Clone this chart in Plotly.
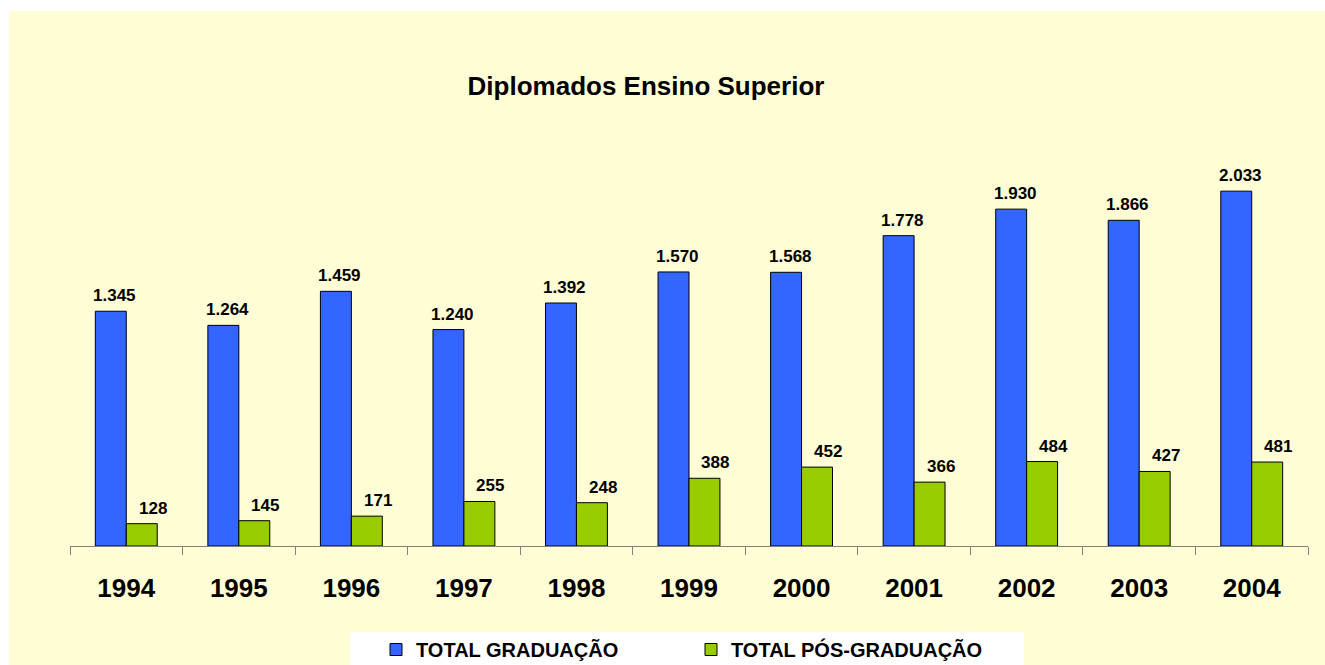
import plotly.graph_objects as go

years = ["1994", "1995", "1996", "1997", "1998", "1999", "2000", "2001", "2002", "2003", "2004"]
graduacao = [1345, 1264, 1459, 1240, 1392, 1570, 1568, 1778, 1930, 1866, 2033]
pos_graduacao = [128, 145, 171, 255, 248, 388, 452, 366, 484, 427, 481]

OFF = 0  # body margin removed via post_script
W, H = 1325, 665
ML = 70 - OFF
MR = W - (1308 - OFF)
MB = H - (546 - OFF)
MT = 162
plot_w = W - ML - MR
plot_h = H - MT - MB

def px_x(page_x):
    return (page_x - OFF - ML) / plot_w

def px_y(page_y):
    return (H - MB - (page_y - OFF)) / plot_h

fig = go.Figure()
fig.add_trace(go.Bar(
    x=years, y=graduacao, name="TOTAL GRADUAÇÃO",
    marker=dict(color="#3366FF", line=dict(color="#000000", width=1)),
))
fig.add_trace(go.Bar(
    x=years, y=pos_graduacao, name="TOTAL PÓS-GRADUAÇÃO",
    marker=dict(color="#99CC00", line=dict(color="#000000", width=1)),
))

bar_px = plot_w / len(years) * 0.55 / 2
annotations = []
for series, shift in ((graduacao, -bar_px / 2 + 4), (pos_graduacao, bar_px / 2 + 11)):
    for i, v in enumerate(series):
        annotations.append(dict(
            x=i, y=v, xref="x", yref="y",
            text="<b>" + f"{v:,}".replace(",", ".") + "</b>",
            showarrow=False, xanchor="center", yanchor="bottom",
            xshift=shift, yshift=4,
            font=dict(family="Liberation Sans, Arial", size=17, color="#000000"),
        ))

shapes = [
    # yellow chart-area background
    dict(type="rect", xref="paper", yref="paper", layer="below",
         x0=px_x(9), x1=px_x(1340), y0=px_y(680), y1=px_y(11),
         fillcolor="#FFFDD6", line=dict(width=0)),
    # white legend box
    dict(type="rect", xref="paper", yref="paper", layer="below",
         x0=px_x(350), x1=px_x(1024), y0=px_y(680), y1=px_y(632),
         fillcolor="#FFFFFF", line=dict(width=0)),
]

fig.update_layout(
    width=W, height=H,
    margin=dict(l=ML, r=MR, t=MT, b=MB, autoexpand=False),
    paper_bgcolor="#FFFFFF", plot_bgcolor="rgba(0,0,0,0)",
    barmode="group", bargap=0.45, bargroupgap=0,
    title=dict(text="<b>Diplomados Ensino Superior</b>", x=(646 - OFF) / W, xref="container",
               xanchor="center", y=1 - (86 - OFF) / H, yref="container", yanchor="middle",
               font=dict(family="Liberation Sans, Arial", size=26, color="#000000")),
    showlegend=True,
    legend=dict(orientation="h", x=px_x(376), xanchor="left",
                y=px_y(630), yanchor="top",
                bgcolor="rgba(0,0,0,0)", borderwidth=0,
                entrywidth=270, entrywidthmode="pixels",
                font=dict(family="Liberation Sans, Arial", size=20, color="#000000", weight="bold")),
    shapes=shapes,
    annotations=annotations,
    font=dict(family="Liberation Sans, Arial", color="#000000"),
)
fig.update_xaxes(
    type="category", range=[-0.5, len(years) - 0.5], showline=True, linecolor="#808080", linewidth=1,
    ticks="outside", tickson="boundaries", ticklen=8, tickcolor="#808080",
    showgrid=False, ticklabelstandoff=19, tickangle=0,
    tickfont=dict(family="Liberation Sans, Arial", size=26, color="#000000", weight="bold"),
)
fig.update_yaxes(range=[0, 2200], visible=False, showgrid=False, zeroline=False)

fig.write_html(
    "out.html",
    config={"displayModeBar": False},
    post_script="document.body.style.margin='0px';document.body.style.overflow='hidden';",
)
